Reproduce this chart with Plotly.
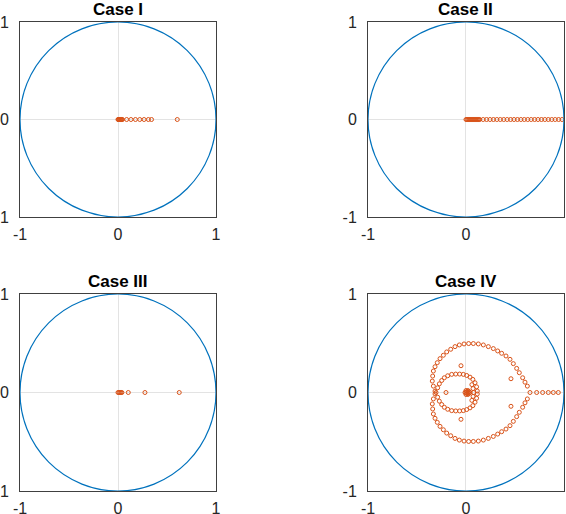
import plotly.graph_objects as go
from plotly.subplots import make_subplots

case1_re = [0.0, 0.005, 0.01, 0.015, 0.02, 0.025, 0.03, 0.035, 0.04, 0.045,
            0.088, 0.132, 0.178, 0.222, 0.266, 0.31, 0.342, 0.605]
case1_im = [0.0] * len(case1_re)

case2_re = [0.0, 0.01, 0.02, 0.03, 0.04, 0.05, 0.06, 0.07, 0.08, 0.09, 0.10,
            0.11, 0.12, 0.13, 0.14, 0.175, 0.21, 0.245, 0.28, 0.315, 0.35,
            0.385, 0.42, 0.455, 0.49, 0.525, 0.56, 0.595, 0.63, 0.665, 0.70,
            0.735, 0.77, 0.805, 0.84, 0.875, 0.91, 0.945, 0.98]
case2_im = [0.0] * len(case2_re)

case3_re = [0.0, 0.01, 0.02, 0.03, 0.04, 0.105, 0.275, 0.625]
case3_im = [0.0] * len(case3_re)

# case IV: outer loop, inner loop, centre cluster, tail and stray points
case4_re = [
    0.653, 0.626, 0.602, 0.578, 0.544, 0.517, 0.483, 0.449, 0.408, 0.364,
    0.323, 0.279, 0.228, 0.177, 0.126, 0.075, 0.027, -0.020, -0.068, -0.112,
    -0.156, -0.197, -0.231, -0.265, -0.293, -0.316, -0.333, -0.340, -0.344,
    -0.333, -0.316,
    0.626, 0.602, 0.578, 0.544, 0.517, 0.483, 0.449, 0.408, 0.364,
    0.323, 0.279, 0.228, 0.177, 0.126, 0.075, 0.027, -0.020, -0.068, -0.112,
    -0.156, -0.197, -0.231, -0.265, -0.293, -0.316, -0.333, -0.340, -0.344,
    -0.333, -0.316,
    -0.306, -0.289, -0.272, -0.248, -0.221, -0.187, -0.146, -0.105, -0.065,
    -0.027, 0.007, 0.041, 0.070, 0.092, 0.108, 0.115,
    -0.289, -0.272, -0.248, -0.221, -0.187, -0.146, -0.105, -0.065,
    -0.027, 0.007, 0.041, 0.070, 0.092, 0.108, 0.115,
    0.060, 0.072, 0.078, 0.072, 0.060,
    0.0, 0.01, 0.02, 0.01, -0.01, 0.02, 0.02, 0.03, 0.03, 0.0, 0.0, 0.04,
    0.721, 0.782, 0.840, 0.891, 0.942,
    -0.051, -0.051, 0.459, 0.459, -0.204,
]
case4_im = [
    0.0, 0.065, 0.105, 0.150, 0.201, 0.245, 0.293, 0.337, 0.371, 0.398,
    0.422, 0.446, 0.466, 0.483, 0.493, 0.497, 0.497, 0.493, 0.483, 0.466,
    0.439, 0.412, 0.378, 0.344, 0.303, 0.262, 0.218, 0.167, 0.116,
    0.065, 0.014,
    -0.065, -0.105, -0.150, -0.201, -0.245, -0.293, -0.337, -0.371, -0.398,
    -0.422, -0.446, -0.466, -0.483, -0.493, -0.497, -0.497, -0.493, -0.483, -0.466,
    -0.439, -0.412, -0.378, -0.344, -0.303, -0.262, -0.218, -0.167, -0.116,
    -0.065, -0.014,
    0.0, 0.048, 0.088, 0.122, 0.150, 0.170, 0.184, 0.187, 0.187,
    0.184, 0.173, 0.156, 0.133, 0.099, 0.058, 0.015,
    -0.048, -0.088, -0.122, -0.150, -0.170, -0.184, -0.187, -0.187,
    -0.184, -0.173, -0.156, -0.133, -0.099, -0.058, -0.015,
    0.08, 0.04, 0.0, -0.04, -0.08,
    0.0, 0.01, 0.0, -0.01, 0.0, 0.02, -0.02, 0.01, -0.01, 0.02, -0.02, 0.0,
    0.0, 0.0, 0.0, 0.0, 0.0,
    0.272, -0.272, 0.140, -0.140, 0.0,
]

titles = ['Case I', 'Case II', 'Case III', 'Case IV']
cases = [(case1_re, case1_im), (case2_re, case2_im),
         (case3_re, case3_im), (case4_re, case4_im)]
tick_vals = [-1, 0, 1]
tick_text = ['-1', '0', '1']

fig = make_subplots(rows=2, cols=2)

for i, (re, im) in enumerate(cases):
    r, c = i // 2 + 1, i % 2 + 1
    fig.add_trace(go.Scatter(
        x=re, y=im, mode='markers',
        marker=dict(symbol='circle-open', size=4, color='#D95319',
                    line=dict(width=1, color='#D95319')),
        showlegend=False), row=r, col=c)
    # unit circle
    fig.add_shape(type='circle', xref='x' if i == 0 else f'x{i+1}',
                  yref='y' if i == 0 else f'y{i+1}',
                  x0=-1, y0=-1, x1=1, y1=1,
                  line=dict(color='#0072BD', width=1.2))

x_domains = [[0, 0.3603], [0.6397, 1.0]]
y_domains = [[0.5842, 1.0], [0.0, 0.42]]

for i in range(4):
    r, c = i // 2, i % 2
    axis_style = dict(range=[-1, 1], tickvals=tick_vals, ticktext=tick_text,
                      showgrid=True, gridcolor='#e3e3e3', gridwidth=1,
                      zeroline=False, showline=True, mirror=True,
                      linecolor='#404040', linewidth=1, ticks='',
                      automargin=False,
                      tickfont=dict(family='Liberation Sans', size=16, color='#262626'),
                      fixedrange=True)
    fig.update_xaxes(domain=x_domains[c], ticklabelstandoff=3, **axis_style, row=r + 1, col=c + 1)
    fig.update_yaxes(domain=y_domains[r], ticklabelstandoff=7, **axis_style, row=r + 1, col=c + 1)
    fig.add_annotation(text='<b>' + titles[i] + '</b>', xref='paper', yref='paper',
                       x=sum(x_domains[c]) / 2, y=y_domains[r][1],
                       xanchor='center', yanchor='bottom', yshift=1, showarrow=False,
                       font=dict(family='Liberation Sans', size=17, color='black'))

fig.update_layout(width=566, height=514, margin=dict(l=20, r=2, t=22, b=23),
                  plot_bgcolor='white', paper_bgcolor='white')

# page body has a default margin; drop it so the figure fills the window
fig.write_html("out.html", config={'displayModeBar': False},
               post_script="document.body.style.margin='0';")
